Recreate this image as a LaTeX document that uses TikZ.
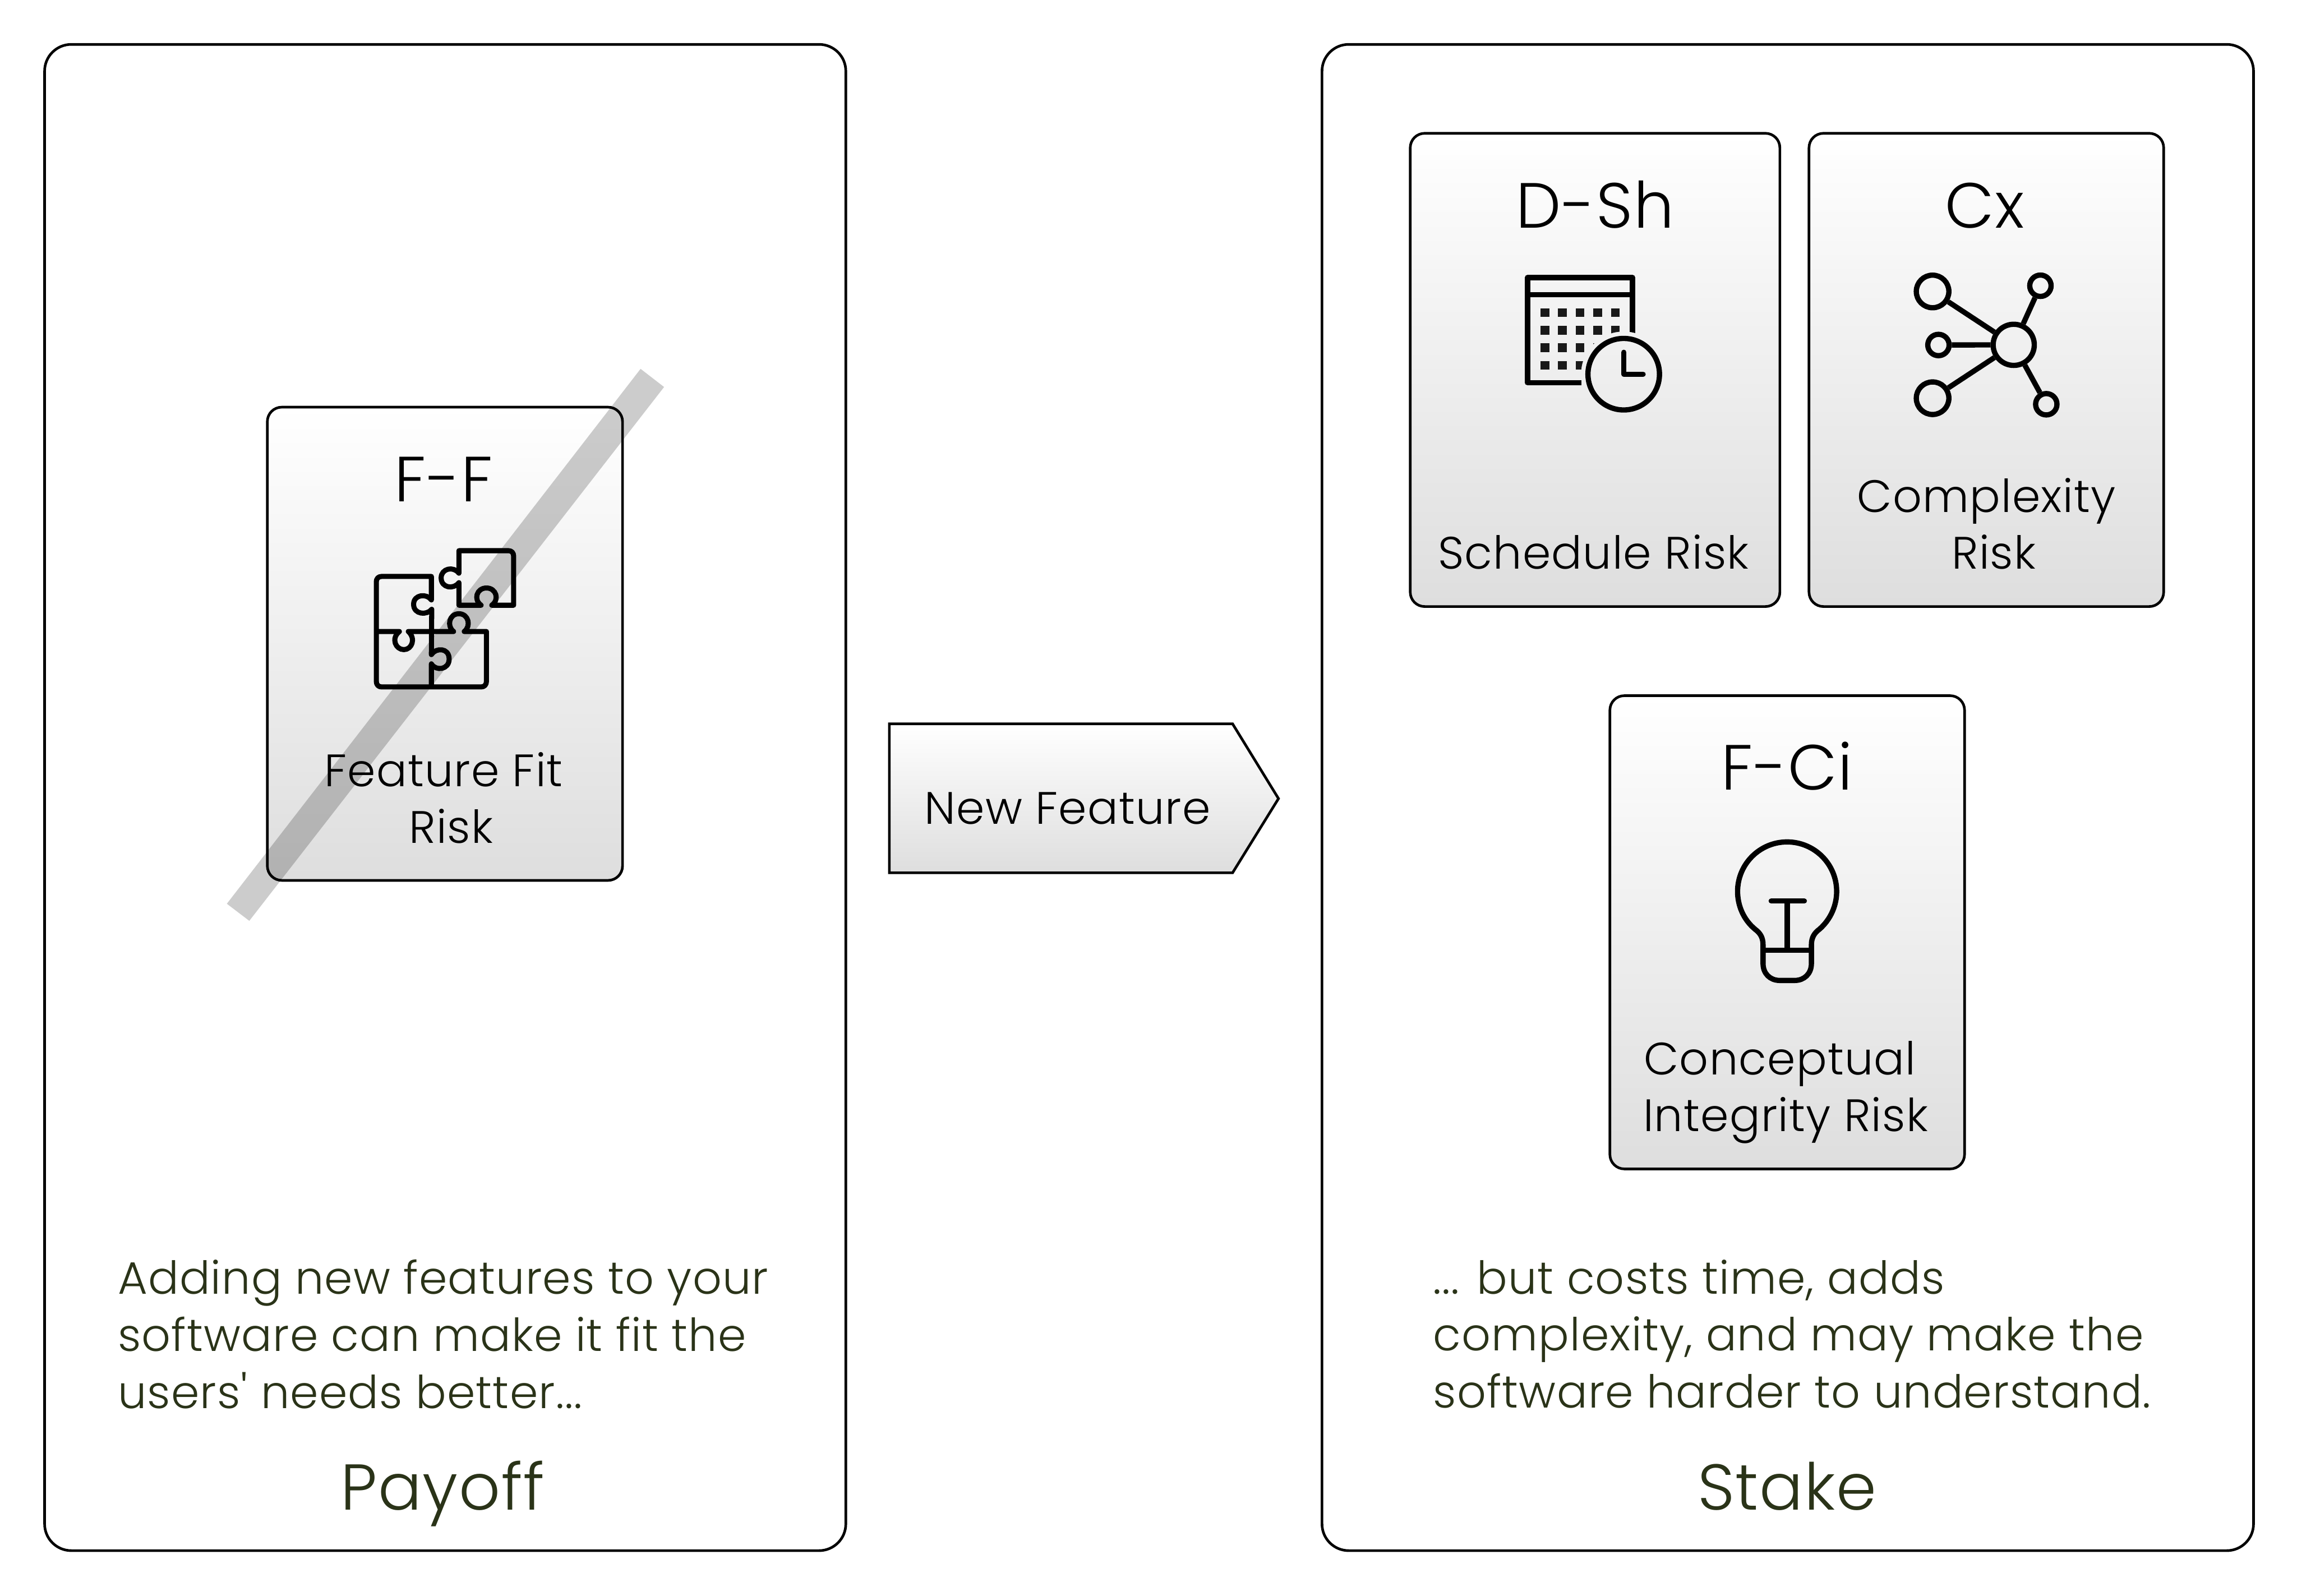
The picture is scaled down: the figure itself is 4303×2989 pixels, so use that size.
\documentclass[tikz,border=0pt]{standalone}
\usepackage{fontspec}
\setmainfont{Poppins Light}[LetterSpace=1.5,Ligatures=TeXOff]
\definecolor{olive}{HTML}{2A3318}
\tikzset{
  panel/.style={draw=black,line width=1.4pt,rounded corners=0.5cm,inner sep=0pt,minimum width=#1},
  card/.style={draw=black,line width=1.4pt,rounded corners=0.27cm,top color=white,bottom color=black!13,inner sep=0pt,minimum width=#1,minimum height=8.86cm},
  heading/.style={anchor=base,font=\fontsize{34}{40}\selectfont},
  caption/.style={anchor=base,font=\fontsize{24.2}{30}\selectfont},
  remark/.style={anchor=north west,align=left,inner sep=0pt,text=olive,font=\fontsize{24.2}{30.4}\selectfont},
  title/.style={anchor=base,text=olive,font=\fontsize{34.5}{40}\selectfont},
  icon/.style={line width=2.7pt,line cap=round,line join=round},
  hub/.style={draw=black,circle,line width=2.8pt,inner sep=0pt,minimum size=#1}
}
\begin{document}
\begin{tikzpicture}[x=0.01cm,y=-0.01cm]
\useasboundingbox[fill=white] (0,0) rectangle (4303,2989);

\node[panel=15cm,minimum height=28.2cm] (payoff) at (834,1494) {};
\node[panel=17.44cm,minimum height=28.2cm] (stake) at (3349,1494) {};

\node[card=6.65cm] (ff) at (833.5,1206) {};
\node[card=6.92cm] (dsh) at (2988,693) {};
\node[card=6.64cm] (cx) at (3721,693) {};
\node[card=6.64cm] (fci) at (3348,1746.5) {};

\draw[line width=1.4pt,top color=white,bottom color=black!13] (1666,1356) -- (2309,1356) -- (2395,1496) -- (2309,1635) -- (1666,1635) -- cycle;
\node[caption] (newfeature) at (2000,1544) {New Feature};

\node[heading] (fflabel) at (831,940) {F-F};
\node[caption] (ffname) at (831,1473) {Feature Fit};
\node[caption] (ffrisk) at (845,1579) {Risk};
\node[heading] (dshlabel) at (2988,427) {D-Sh};
\node[caption] (dshname) at (2985,1066) {Schedule Risk};
\node[heading] (cxlabel) at (3718,427) {Cx};
\node[caption] (cxname) at (3721,960) {Complexity};
\node[caption] (cxrisk) at (3735,1066) {Risk};
\node[heading] (fcilabel) at (3348,1480) {F-Ci};
\node[caption] (fciname) at (3334,2013) {Conceptual};
\node[caption] (fcirisk) at (3345,2119) {Integrity Risk};

\node[remark] (payofftext) at (220,2359) {Adding new features to your\\software can make it fit the\\users' needs better...};
\node[remark] (staketext) at (2684,2359) {... but costs time, adds\\complexity, and may make the\\software harder to understand.};
\node[title] (payofftitle) at (829,2829) {Payoff};
\node[title] (staketitle) at (3348,2829) {Stake};

\begin{scope}[shift={(660,1000)},x=0.00333cm,y=-0.00333cm,icon]
\draw (600,222) -- (600,95) -- (880,95) .. controls (897,95) and (908,108) .. (908,125) -- (908,402) -- (785,402)
  .. controls (830,370) and (810,305) .. (755,305) .. controls (700,305) and (680,370) .. (725,402)
  -- (600,402) -- (600,275) .. controls (570,315) and (500,305) .. (500,248) .. controls (500,195) and (570,180) .. (600,222);
\draw (445,372) -- (445,240) -- (165,240) .. controls (147,240) and (135,252) .. (135,270) -- (135,830)
  .. controls (135,850) and (147,862) .. (165,862) -- (725,862) .. controls (743,862) and (755,850) .. (755,830)
  -- (755,550) -- (630,550) .. controls (670,520) and (655,450) .. (600,450) .. controls (545,450) and (530,520) .. (570,550)
  -- (315,550) .. controls (360,590) and (335,652) .. (290,652) .. controls (245,652) and (215,590) .. (265,550) -- (135,550);
\draw (445,372) .. controls (420,335) and (345,340) .. (345,397) .. controls (345,455) and (420,460) .. (447,425)
  -- (445,680) .. controls (470,640) and (545,640) .. (545,705) .. controls (545,765) and (470,775) .. (445,732) -- (445,860);
\end{scope}

\begin{scope}[line width=2.8pt,even odd rule]
\clip (2800,480) rectangle (3180,800) (3041.7,701) circle (80);
\draw[line join=round] (2962,717) -- (2861.7,717) -- (2861.7,520) -- (3058,520) -- (3058,650);
\draw (2861.7,552) -- (3058,552);
\foreach \col in {0,...,4}
  \foreach \row in {0,...,3}
    \fill[black!90] (2885.7+33*\col,577.3+33*\row) rectangle +(16.5,16.5);
\end{scope}
\draw[line width=2.8pt] (3041.7,701) circle (67);
\draw[line width=2.8pt,line cap=round,line join=round] (3042,660) -- (3042,701) -- (3078,701);

\node[hub=0.77cm] (cxhub) at (3772.3,646) {};
\node[hub=0.61cm] (cxa) at (3620.3,546) {};
\node[hub=0.4cm] (cxb) at (3822.3,535.3) {};
\node[hub=0.4cm] (cxc) at (3631.3,646.3) {};
\node[hub=0.61cm] (cxd) at (3620.3,746) {};
\node[hub=0.4cm] (cxe) at (3833.3,757.3) {};
\foreach \leaf in {cxa,cxb,cxc,cxd,cxe}
  \draw[line width=2.8pt] (cxhub) -- (\leaf);

\draw[line width=2.8pt,line join=round] (3302.7,1780) -- (3302.7,1770) .. controls (3302.7,1755) and (3296,1747) .. (3288,1741)
  .. controls (3265,1722) and (3255,1695) .. (3255,1670) arc[start angle=180,end angle=360,radius=92.8]
  .. controls (3440.7,1695) and (3430,1722) .. (3408,1741) .. controls (3400,1747) and (3393.3,1755) .. (3393.3,1770)
  -- (3393.3,1805) .. controls (3393.3,1824) and (3380,1836.7) .. (3362,1836.7) -- (3334,1836.7)
  .. controls (3316,1836.7) and (3302.7,1824) .. (3302.7,1805) -- cycle;
\draw[line width=2.8pt] (3302.7,1780) -- (3393.3,1780);
\draw[line width=2.8pt] (3348,1688) -- (3348,1780);
\draw[line width=2.8pt,line cap=round] (3318,1688) -- (3380,1688);

\fill[black,opacity=0.2] (1200,691) -- (1244,725) -- (467,1725) -- (425,1693) -- cycle;
\end{tikzpicture}
\end{document}
